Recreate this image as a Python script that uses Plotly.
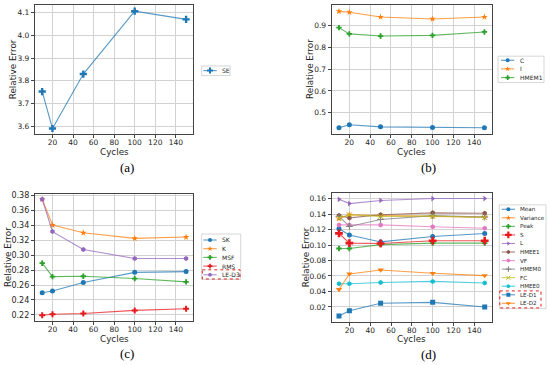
import plotly.graph_objects as go

W, H = 550, 365

# ---------------- data ----------------
cycles = [10, 20, 50, 100, 150]
x_ticks = [20, 40, 60, 80, 100, 120, 140]

# (a)
se = [3.753, 3.590, 3.830, 4.107, 4.071]

# (b)
c_vals = [0.430, 0.4435, 0.434, 0.431, 0.430]
i_vals = [0.967, 0.963, 0.941, 0.932, 0.941]
hmem1 = [0.892, 0.863, 0.853, 0.856, 0.872]
hmem1_err = [0.010, 0.009, 0.010, 0.008, 0.010]

# (c)
sk = [0.2497, 0.2520, 0.2634, 0.2770, 0.2780]
k_vals = [0.3750, 0.3404, 0.3300, 0.3225, 0.3243]
msf = [0.2893, 0.2713, 0.2718, 0.2687, 0.2643]
msf_err = [0.0035, 0.0030, 0.0030, 0.0025, 0.0030]
rms = [0.2196, 0.2209, 0.2218, 0.2260, 0.2282]
le_d3 = [0.3750, 0.3316, 0.3076, 0.2956, 0.2955]

# (d)
mean_v = [0.1210, 0.1130, 0.1040, 0.1110, 0.1148]
variance = [0.1340, 0.1390, 0.1380, 0.1370, 0.1360]
peak = [0.0955, 0.0955, 0.1005, 0.1025, 0.1025]
peak_err = [0.003, 0.003, 0.002, 0.002, 0.002]
s_vals = [0.1150, 0.1025, 0.1020, 0.1056, 0.1056]
s_err = [0.003, 0.002, 0.002, 0.002, 0.002]
l_vals = [0.1590, 0.1535, 0.1575, 0.1600, 0.1600]
hmee1 = [0.1380, 0.1350, 0.1390, 0.1415, 0.1410]
vf = [0.1260, 0.1260, 0.1260, 0.1235, 0.1217]
hmem0 = [0.1370, 0.1240, 0.1330, 0.1380, 0.1360]
fc = [0.1350, 0.1390, 0.1370, 0.1374, 0.1355]
hmee0 = [0.0500, 0.0500, 0.0517, 0.0530, 0.0510]
le_d1 = [0.0083, 0.0152, 0.0248, 0.0260, 0.0200]
le_d2 = [0.0426, 0.0626, 0.0678, 0.0635, 0.0605]

# ---------------- styles ----------------
BLUE, ORANGE, GREEN, RED = "#1f77b4", "#ff7f0e", "#2ca02c", "#e8191c"
PURPLE, BROWN, PINK, GRAY = "#9467bd", "#8c564b", "#e377c2", "#7f7f7f"
OLIVE, CYAN = "#bcbd22", "#17becf"
FONT = "DejaVu Sans"


def rgba(h, a):
    h = h.lstrip("#")
    return "rgba(%d,%d,%d,%s)" % (int(h[0:2], 16), int(h[2:4], 16), int(h[4:6], 16), a)


# name, values, color, symbol, size, err
panels = [
    dict(series=[("SE", se, BLUE, "cross", 6, None)],
         x=(35, 193.3), y=(3.3, 132.7), yr=[3.566, 4.133],
         yt=[3.6, 3.7, 3.8, 3.9, 4.0, 4.1], fmt="%.1f", tfs=7.5,
         label="(a)", lab=(127, 166), cyc=151, rel=12.7,
         leg=dict(box=(201.7, 64.3, 230, 74), y0=69, dy=8.7, lx=(203.3, 216.7), tx=220, fs=6),
         dash=None),
    dict(series=[("C", c_vals, BLUE, "circle", 5, None),
                 ("I", i_vals, ORANGE, "star", 5, None),
                 ("HMEM1", hmem1, GREEN, "cross", 4.5, hmem1_err)],
         x=(331.7, 491.7), y=(3.3, 132.3), yr=[0.403, 0.995],
         yt=[0.5, 0.6, 0.7, 0.8, 0.9], fmt="%.1f", tfs=7.5,
         label="(b)", lab=(428, 166), cyc=151, rel=310.5,
         leg=dict(box=(498, 54.5, 544, 81), y0=58.6, dy=8.7, lx=(501, 514.3), tx=518.3, fs=6),
         dash=None),
    dict(series=[("SK", sk, BLUE, "circle", 5, None),
                 ("K", k_vals, ORANGE, "star", 5, None),
                 ("MSF", msf, GREEN, "cross", 4.5, msf_err),
                 ("RMS", rms, RED, "cross", 5, None),
                 ("LE-D3", le_d3, PURPLE, "hexagon", 5, None)],
         x=(35, 193.3), y=(192.7, 321), yr=[0.2115, 0.3825],
         yt=[0.22, 0.24, 0.26, 0.28, 0.30, 0.32, 0.34, 0.36, 0.38], fmt="%.2f", tfs=8,
         label="(c)", lab=(127, 353), cyc=339, rel=8.5,
         leg=dict(box=(201.7, 233.3, 240.7, 279), y0=239.3, dy=8.75, lx=(203.3, 216.7), tx=220, fs=6),
         dash=(202.3, 269.3, 240, 278.5)),
    dict(series=[("Mean", mean_v, BLUE, "circle", 5, None),
                 ("Variance", variance, ORANGE, "star", 5, None),
                 ("Peak", peak, GREEN, "cross", 4.5, peak_err),
                 ("S", s_vals, RED, "cross", 6.5, s_err),
                 ("L", l_vals, PURPLE, "triangle-right", 5, None),
                 ("HMEE1", hmee1, BROWN, "hexagon", 5, None),
                 ("VF", vf, PINK, "hexagon", 5, None),
                 ("HMEM0", hmem0, GRAY, "cross-thin", 5, None),
                 ("FC", fc, OLIVE, "x-thin", 5, None),
                 ("HMEE0", hmee0, CYAN, "hexagon", 5, None),
                 ("LE-D1", le_d1, BLUE, "square", 5, None),
                 ("LE-D2", le_d2, ORANGE, "triangle-down", 5.5, None)],
         x=(331.7, 492), y=(191.7, 321.7), yr=[0.0007, 0.1676],
         yt=[0.02, 0.04, 0.06, 0.08, 0.10, 0.12, 0.14, 0.16], fmt="%.2f", tfs=7.5,
         label="(d)", lab=(428, 354), cyc=339, rel=306,
         leg=dict(box=(499.3, 204, 546, 308.3), y0=208.4, dy=8.6, lx=(501.7, 515), tx=517.7, fs=5.6),
         dash=(499.8, 290.5, 541, 307.6)),
]


def marker_of(color, symbol, size):
    if symbol.endswith("-thin"):
        return dict(symbol=symbol, size=size, color=color, line=dict(color=color, width=1))
    return dict(symbol=symbol, size=size, color=color, line=dict(width=0))


def sfx(n):
    return "" if n == 1 else str(n)


fig = go.Figure()
layout = dict(width=W, height=H, margin=dict(l=0, r=0, t=0, b=0, pad=0),
              paper_bgcolor="white", plot_bgcolor="rgba(0,0,0,0)", showlegend=False,
              font=dict(family=FONT, color="#262626"))
annotations = []
shapes = []

for i, p in enumerate(panels):
    n = i + 1
    xa = "xaxis" + sfx(n)
    ya = "yaxis" + sfx(n)
    common = dict(showline=True, mirror=True, linecolor="#444444", linewidth=1.2,
                  ticks="outside", ticklen=3, tickwidth=1, tickcolor="#444444",
                  showgrid=True, gridcolor="#d2d2d2", gridwidth=1.2, zeroline=False,
                  fixedrange=True)
    layout[xa] = dict(domain=[p["x"][0] / W, p["x"][1] / W], range=[3, 157],
                      tickvals=x_ticks, ticktext=[str(v) for v in x_ticks],
                      anchor="y" + sfx(n), tickfont=dict(size=7.5, family=FONT, color="#262626"),
                      ticklabelstandoff=-2, **common)
    layout[ya] = dict(domain=[1 - p["y"][1] / H, 1 - p["y"][0] / H], range=p["yr"],
                      tickvals=p["yt"], ticktext=[p["fmt"] % v for v in p["yt"]],
                      anchor="x" + sfx(n), tickfont=dict(size=p["tfs"], family=FONT, color="#262626"),
                      **common)
    for name, vals, color, sym, size, err in p["series"]:
        tr = dict(x=cycles, y=vals, mode="lines+markers", name=name,
                  xaxis="x" + sfx(n), yaxis="y" + sfx(n),
                  line=dict(color=rgba(color, 0.75), width=1.1),
                  marker=marker_of(color, sym, size), hoverinfo="skip")
        if err is not None:
            tr["error_y"] = dict(type="data", array=err, visible=True, color=color,
                                 thickness=1.2, width=0)
        fig.add_trace(go.Scatter(**tr))

    # axis titles and panel label
    xc = (p["x"][0] + p["x"][1]) / 2
    yc = (p["y"][0] + p["y"][1]) / 2
    annotations.append(dict(x=xc, y=p["cyc"], xref="x5", yref="y5", text="Cycles",
                            showarrow=False, font=dict(size=8.8, family=FONT, color="#262626"),
                            xanchor="center", yanchor="middle", borderpad=0))
    annotations.append(dict(x=p["rel"], y=yc, xref="x5", yref="y5", text="Relative Error",
                            textangle=-90, showarrow=False,
                            font=dict(size=8.8, family=FONT, color="#262626"),
                            xanchor="center", yanchor="middle", borderpad=0))
    annotations.append(dict(x=p["lab"][0], y=p["lab"][1], xref="x5", yref="y5", text=p["label"],
                            showarrow=False, font=dict(size=13, family="Liberation Serif", color="black"),
                            xanchor="center", yanchor="middle"))

    # legend (drawn in pixel space of the overlay axis)
    lg = p["leg"]
    bx0, by0, bx1, by1 = lg["box"]
    shapes.append(dict(type="rect", xref="x5", yref="y5", x0=bx0, y0=by0, x1=bx1, y1=by1,
                       line=dict(color="#cccccc", width=0.8), fillcolor="rgba(0,0,0,0)", layer="below"))
    for j, (name, vals, color, sym, size, err) in enumerate(p["series"]):
        yy = lg["y0"] + j * lg["dy"]
        lx0, lx1 = lg["lx"]
        fig.add_trace(go.Scatter(x=[lx0, lx1], y=[yy, yy], mode="lines", xaxis="x5", yaxis="y5",
                                 line=dict(color=rgba(color, 0.75), width=1.1), hoverinfo="skip"))
        mtr = dict(x=[(lx0 + lx1) / 2], y=[yy], mode="markers", xaxis="x5", yaxis="y5",
                   marker=marker_of(color, sym, max(size - 1, 4)), hoverinfo="skip")
        if err is not None:
            mtr["error_y"] = dict(type="data", array=[2.2], visible=True, color=color,
                                  thickness=1.1, width=0)
        fig.add_trace(go.Scatter(**mtr))
        annotations.append(dict(x=lg["tx"], y=yy, xref="x5", yref="y5", text=name,
                                showarrow=False, font=dict(size=lg["fs"], family=FONT, color="#262626"),
                                xanchor="left", yanchor="middle"))
    if p["dash"] is not None:
        dx0, dy0, dx1, dy1 = p["dash"]
        shapes.append(dict(type="rect", xref="x5", yref="y5", x0=dx0, y0=dy0, x1=dx1, y1=dy1,
                           line=dict(color="#e0201c", width=1, dash="dot"), layer="above"))

layout["xaxis5"] = dict(domain=[0, 1], range=[0, W], visible=False, fixedrange=True, anchor="y5")
layout["yaxis5"] = dict(domain=[0, 1], range=[H, 0], visible=False, fixedrange=True, anchor="x5")
layout["annotations"] = annotations
layout["shapes"] = shapes
fig.update_layout(**layout)

fig.write_html("out.html", config={"displayModeBar": False},
               post_script="document.body.style.margin='0';document.body.style.padding='0';")
